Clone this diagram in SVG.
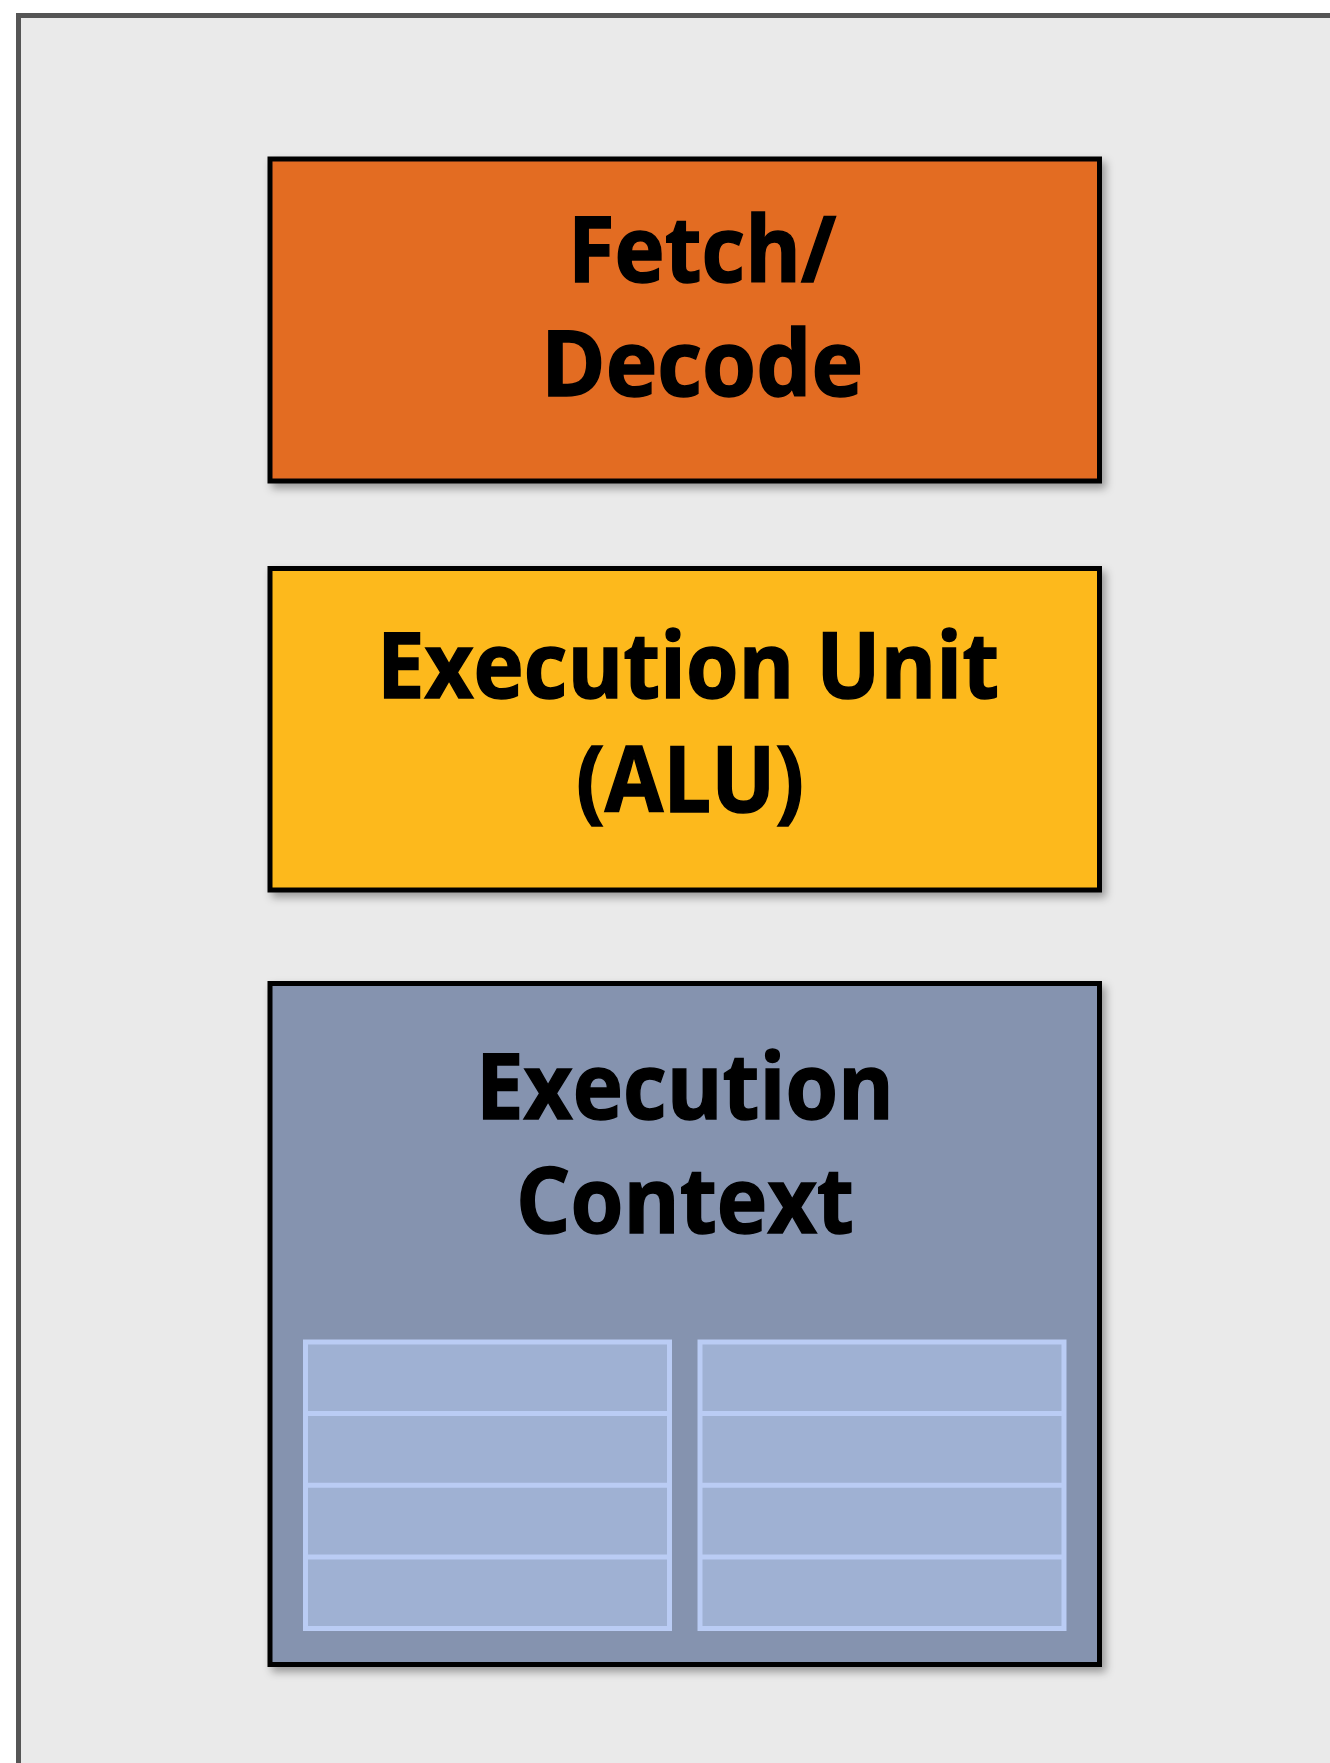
<svg xmlns="http://www.w3.org/2000/svg" width="1330" height="1763" viewBox="0 0 1330 1763">
  <defs>
    <filter id="sh" x="-10%" y="-10%" width="125%" height="125%">
      <feDropShadow dx="4" dy="5" stdDeviation="4" flood-color="#000" flood-opacity="0.35"/>
    </filter>
    <style>
      .box { stroke: #000; stroke-width: 5; filter: url(#sh); }
      .lbl { font-family: "Open Sans", "Liberation Sans", sans-serif; font-weight: 700; font-size: 92px; fill: #000; stroke: #000; stroke-width: 1.5; text-anchor: middle; }
      .cell { fill: #9FB1D3; stroke: #BACCF4; stroke-width: 5; }
      .sep { stroke: #BACCF4; stroke-width: 5; }
    </style>
  </defs>
  <rect x="0" y="0" width="1330" height="1763" fill="#ffffff"/>
  <g id="core">
    <rect x="18.5" y="15.5" width="1400" height="1800" fill="#EAEAEA" stroke="#555555" stroke-width="5"/>
  </g>
  <g id="fetch-decode">
    <rect class="box" x="270" y="159" width="829.5" height="322" fill="#E36C24"/>
    <text class="lbl" x="702" y="282" textLength="268" lengthAdjust="spacingAndGlyphs">Fetch/</text>
    <text class="lbl" x="702" y="396" textLength="322" lengthAdjust="spacingAndGlyphs">Decode</text>
  </g>
  <g id="execution-unit">
    <rect class="box" x="270" y="568.5" width="829.5" height="321.5" fill="#FDB91A"/>
    <text class="lbl" x="688" y="698" textLength="622" lengthAdjust="spacingAndGlyphs">Execution Unit</text>
    <text class="lbl" x="690" y="812" textLength="228" lengthAdjust="spacingAndGlyphs">(ALU)</text>
  </g>
  <g id="execution-context">
    <rect class="box" x="270" y="983.5" width="829.5" height="681" fill="#8593AF"/>
    <text class="lbl" x="685" y="1119" textLength="418" lengthAdjust="spacingAndGlyphs">Execution</text>
    <text class="lbl" x="685" y="1233" textLength="338" lengthAdjust="spacingAndGlyphs">Context</text>
    <g id="context-table-left">
      <rect class="cell" x="305.5" y="1342" width="364" height="286.5"/>
      <line class="sep" x1="305.5" y1="1413.6" x2="669.5" y2="1413.6"/>
      <line class="sep" x1="305.5" y1="1485.2" x2="669.5" y2="1485.2"/>
      <line class="sep" x1="305.5" y1="1556.9" x2="669.5" y2="1556.9"/>
    </g>
    <g id="context-table-right">
      <rect class="cell" x="700" y="1342" width="364" height="286.5"/>
      <line class="sep" x1="700" y1="1413.6" x2="1064" y2="1413.6"/>
      <line class="sep" x1="700" y1="1485.2" x2="1064" y2="1485.2"/>
      <line class="sep" x1="700" y1="1556.9" x2="1064" y2="1556.9"/>
    </g>
  </g>
  <g id="connectors"/>
</svg>
